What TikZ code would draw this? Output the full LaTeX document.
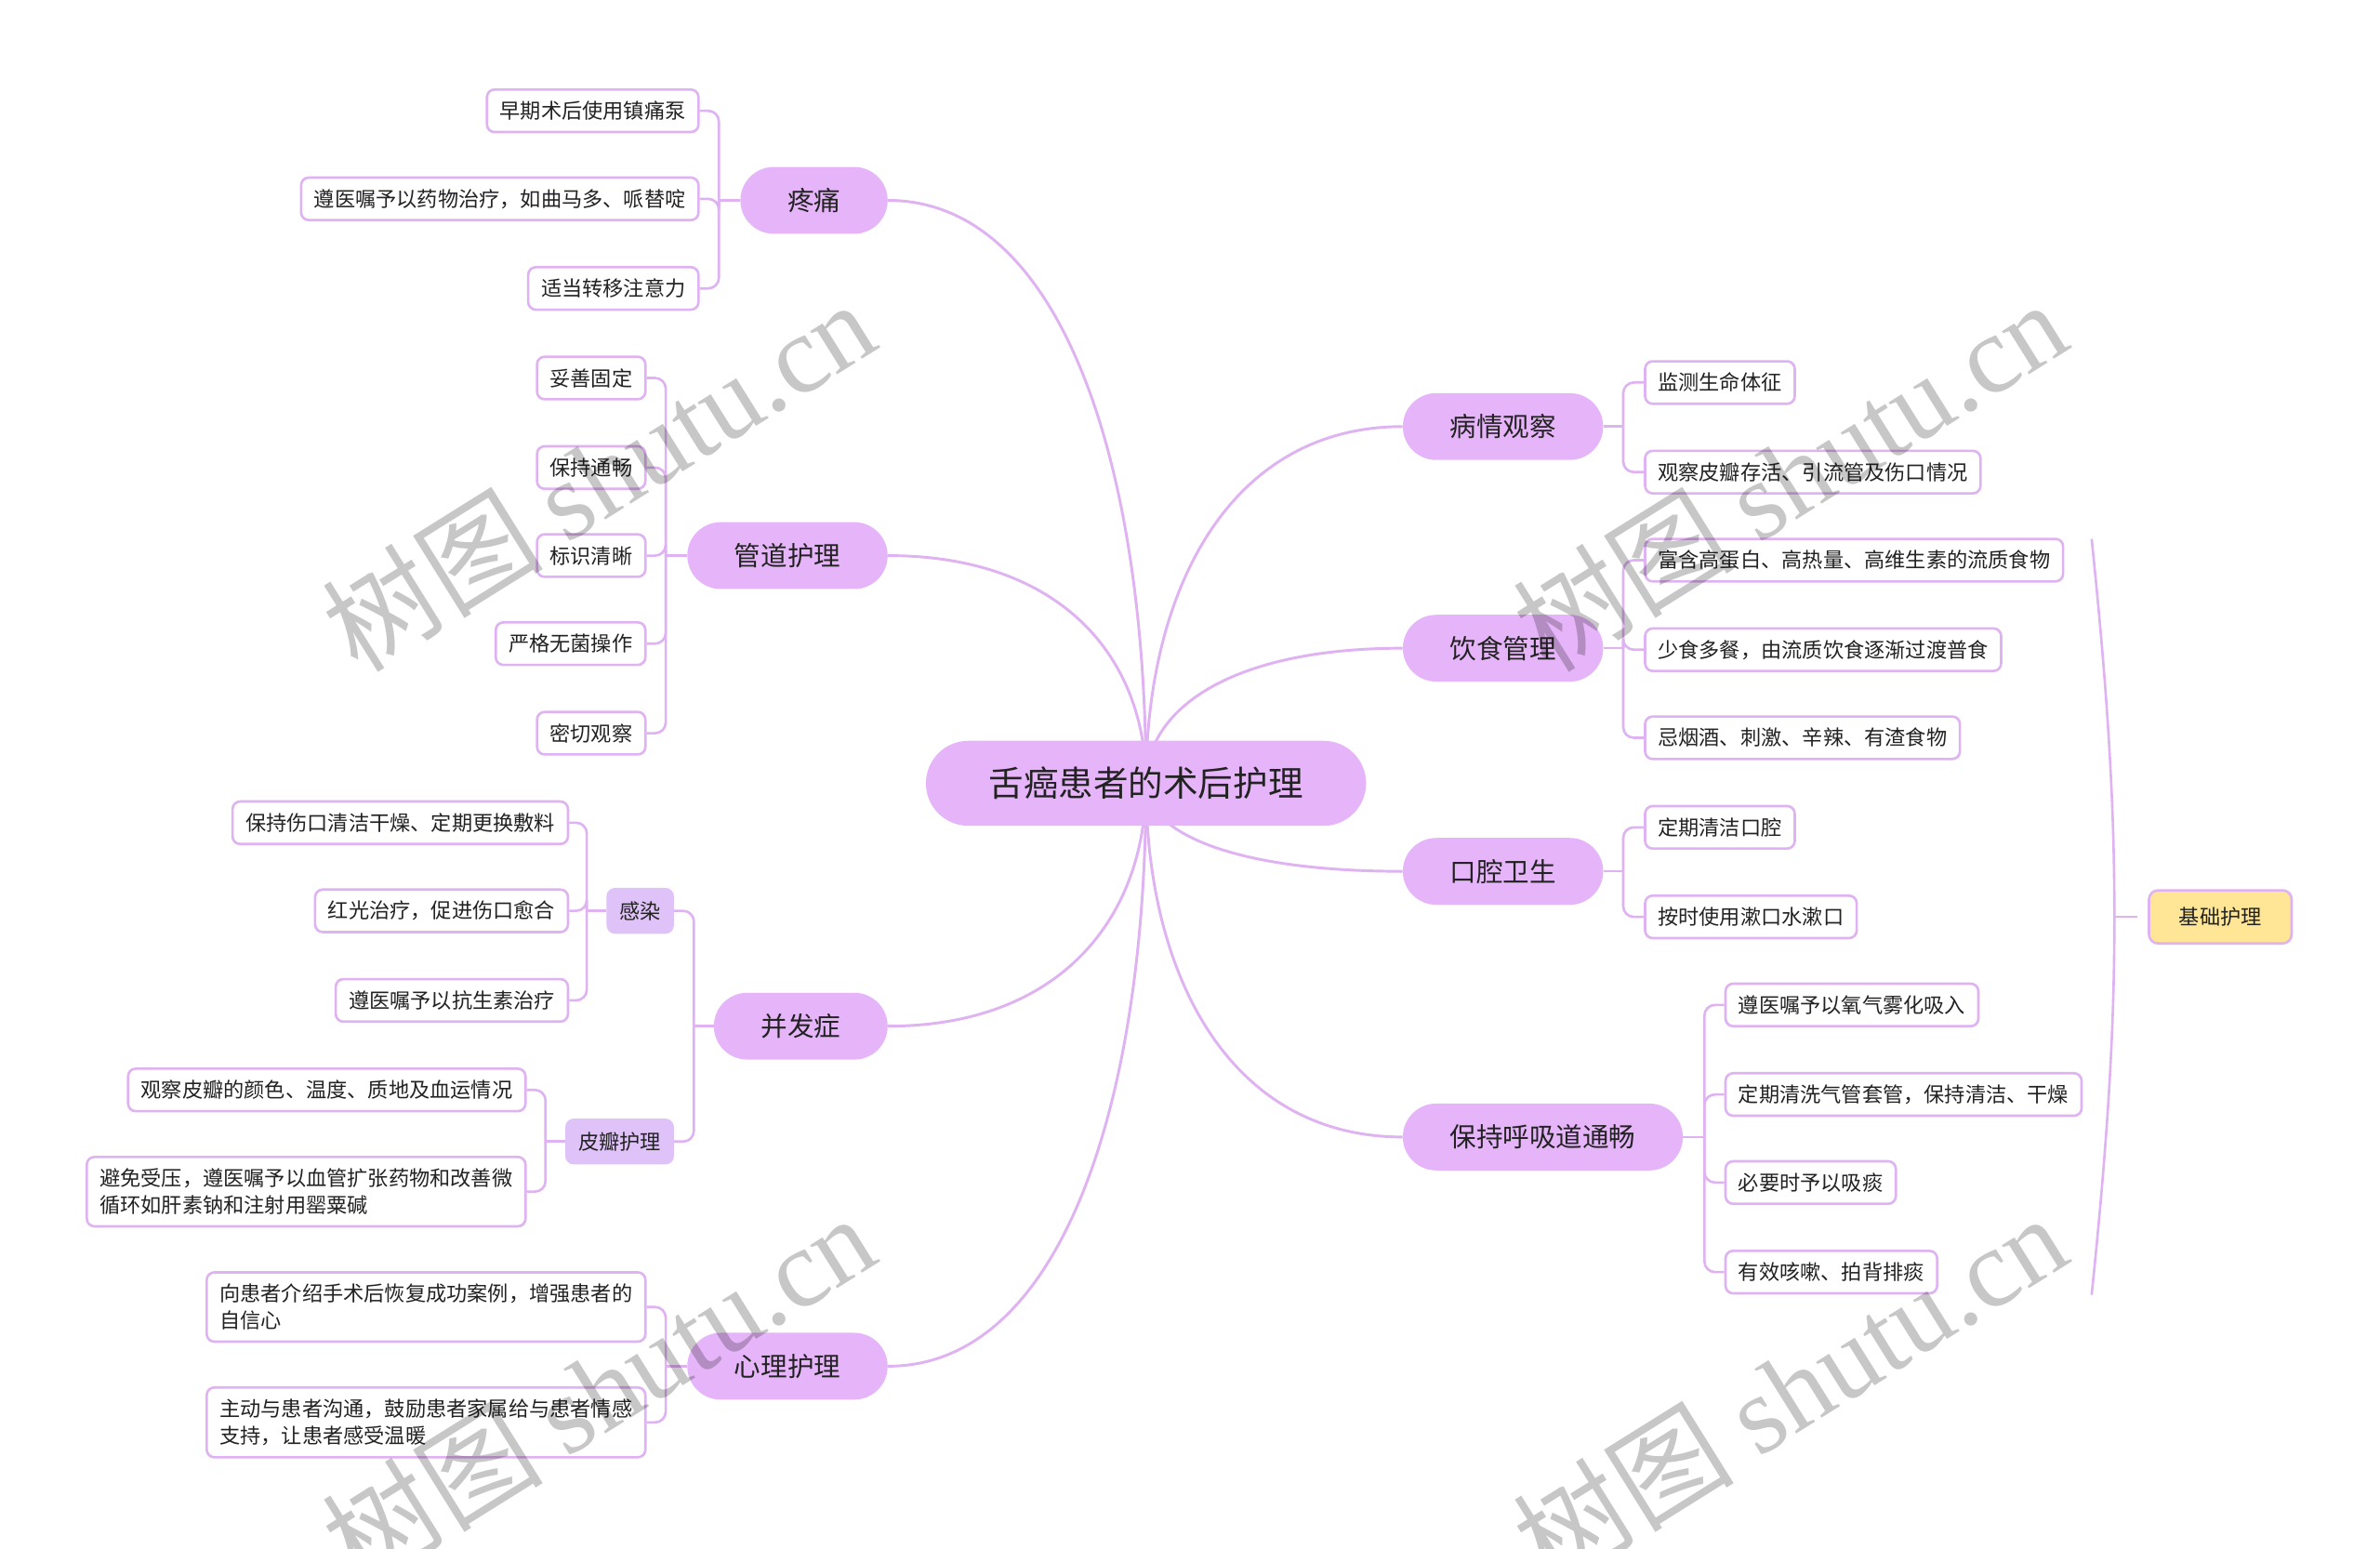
\documentclass[tikz,border=0pt]{standalone}
\usepackage{fontspec}
\setmainfont{Noto Sans CJK SC}
\newfontfamily\wmserif{Liberation Serif}
\usetikzlibrary{backgrounds}
\definecolor{pill}{RGB}{230,181,249}
\definecolor{subc}{RGB}{222,194,248}
\definecolor{ln}{RGB}{223,178,242}
\definecolor{txt}{RGB}{34,34,34}
\definecolor{yel}{RGB}{255,229,150}
\tikzset{
  root/.style={fill=pill, rounded corners=28, minimum height=56, minimum width=290, inner sep=0, text=txt, font=\fontsize{23}{27}\selectfont},
  mainn/.style={fill=pill, rounded corners=22, minimum height=44, inner xsep=31, inner ysep=0, text=txt, font=\fontsize{17.5}{21}\selectfont},
  leaf/.style={draw=ln, line width=1.6, fill=white, rounded corners=5, minimum height=28, inner xsep=8.5, inner ysep=3, text=txt, align=left, font=\fontsize{13.6}{18}\selectfont},
  leaftwo/.style={leaf, inner ysep=7.5},
  subn/.style={fill=subc, draw=subc, line width=1.2, rounded corners=5, minimum height=29, inner xsep=8, inner ysep=0, text=txt, font=\fontsize{13.6}{18}\selectfont},
  sumn/.style={fill=yel, draw=ln, line width=1.6, rounded corners=6, minimum height=35, minimum width=94, inner sep=0, text=txt, font=\fontsize{13.6}{18}\selectfont},
  conn/.style={draw=ln, line width=1.8},
  br/.style={draw=ln, line width=1.6, rounded corners=7},
  wmark/.style={text=black, text opacity=0.22, rotate=32, font=\fontsize{73}{76}\selectfont, inner sep=0},
}
\begin{document}
\begin{tikzpicture}[x=1pt,y=-1pt]
\useasboundingbox (0,0) rectangle (1568,1020);
% root
\node[root] (root) at (755,516) {舌癌患者的术后护理};
% left main nodes
\node[mainn, anchor=east] (p1) at (585,132) {疼痛};
\node[mainn, anchor=east] (p2) at (585,366) {管道护理};
\node[mainn, anchor=east] (p3) at (585,676) {并发症};
\node[mainn, anchor=east] (p4) at (585,900) {心理护理};
% right main nodes
\node[mainn, anchor=west] (q1) at (924,281) {病情观察};
\node[mainn, anchor=west] (q2) at (924,427) {饮食管理};
\node[mainn, anchor=west] (q3) at (924,574) {口腔卫生};
\node[mainn, anchor=west] (q4) at (924,749) {保持呼吸道通畅};
% p1 leaves
\node[leaf, anchor=east] (l11) at (461,73) {早期术后使用镇痛泵};
\node[leaf, anchor=east] (l12) at (461,131) {遵医嘱予以药物治疗，如曲马多、哌替啶};
\node[leaf, anchor=east] (l13) at (461,190) {适当转移注意力};
% p2 leaves
\node[leaf, anchor=east] (l21) at (426,249) {妥善固定};
\node[leaf, anchor=east] (l22) at (426,308) {保持通畅};
\node[leaf, anchor=east] (l23) at (426,366) {标识清晰};
\node[leaf, anchor=east] (l24) at (426,424) {严格无菌操作};
\node[leaf, anchor=east] (l25) at (426,483) {密切观察};
% p3 subs
\node[subn, anchor=east] (s1) at (444,600) {感染};
\node[subn, anchor=east] (s2) at (444,752) {皮瓣护理};
\node[leaf, anchor=east] (l31) at (375,542) {保持伤口清洁干燥、定期更换敷料};
\node[leaf, anchor=east] (l32) at (375,600) {红光治疗，促进伤口愈合};
\node[leaf, anchor=east] (l33) at (375,659) {遵医嘱予以抗生素治疗};
\node[leaf, anchor=east] (l34) at (347,718) {观察皮瓣的颜色、温度、质地及血运情况};
\node[leaftwo, anchor=east] (l35) at (347,785) {避免受压，遵医嘱予以血管扩张药物和改善微\\循环如肝素钠和注射用罂粟碱};
% p4 leaves
\node[leaftwo, anchor=east] (l41) at (426,861) {向患者介绍手术后恢复成功案例，增强患者的\\自信心};
\node[leaftwo, anchor=east] (l42) at (426,937) {主动与患者沟通，鼓励患者家属给与患者情感\\支持，让患者感受温暖};
% q1 leaves
\node[leaf, anchor=west] (r11) at (1083,252) {监测生命体征};
\node[leaf, anchor=west] (r12) at (1083,311) {观察皮瓣存活、引流管及伤口情况};
% q2 leaves
\node[leaf, anchor=west] (r21) at (1083,369) {富含高蛋白、高热量、高维生素的流质食物};
\node[leaf, anchor=west] (r22) at (1083,428) {少食多餐，由流质饮食逐渐过渡普食};
\node[leaf, anchor=west] (r23) at (1083,486) {忌烟酒、刺激、辛辣、有渣食物};
% q3 leaves
\node[leaf, anchor=west] (r31) at (1083,545) {定期清洁口腔};
\node[leaf, anchor=west] (r32) at (1083,604) {按时使用漱口水漱口};
% q4 leaves
\node[leaf, anchor=west] (r41) at (1136,662) {遵医嘱予以氧气雾化吸入};
\node[leaf, anchor=west] (r42) at (1136,721) {定期清洗气管套管，保持清洁、干燥};
\node[leaf, anchor=west] (r43) at (1136,779) {必要时予以吸痰};
\node[leaf, anchor=west] (r44) at (1136,838) {有效咳嗽、拍背排痰};
% summary
\node[sumn, anchor=west] (sum) at (1415,604) {基础护理};
\coordinate (btop) at (1378,355);
\coordinate (bmid) at (1393,604);
\coordinate (bbot) at (1378,853);

\begin{scope}[on background layer]
\fill[white] (0,0) rectangle (1568,1020);
% root connectors
\draw[conn] (root.center) .. controls (755,305) and (699,132) .. (p1.east);
\draw[conn] (root.center) .. controls (755,433) and (699,366) .. (p2.east);
\draw[conn] (root.center) .. controls (755,604) and (699,676) .. (p3.east);
\draw[conn] (root.center) .. controls (755,727) and (699,900) .. (p4.east);
\draw[conn] (root.center) .. controls (755,387) and (811,281) .. (q1.west);
\draw[conn] (root.center) .. controls (755,467) and (811,427) .. (q2.west);
\draw[conn] (root.center) .. controls (755,548) and (811,574) .. (q3.west);
\draw[conn] (root.center) .. controls (755,644) and (811,749) .. (q4.west);
% branch stubs
\draw[br] (p1.west) -- ++(-14,0) coordinate (b1);
\draw[br] (p2.west) -- ++(-14,0) coordinate (b2);
\draw[br] (p3.west) -- ++(-13,0) coordinate (b3);
\draw[br] (p4.west) -- ++(-14,0) coordinate (b4);
\draw[br] (s1.west) -- ++(-13,0) coordinate (bs1);
\draw[br] (s2.west) -- ++(-13,0) coordinate (bs2);
\draw[br] (q1.east) -- ++(13,0) coordinate (c1);
\draw[br] (q2.east) -- ++(13,0) coordinate (c2);
\draw[br] (q3.east) -- ++(13,0) coordinate (c3);
\draw[br] (q4.east) -- ++(14,0) coordinate (c4);
\foreach \l in {l11,l12,l13} \draw[br] (b1) |- (\l.east);
\foreach \l in {l21,l22,l23,l24,l25} \draw[br] (b2) |- (\l.east);
\foreach \l in {s1,s2} \draw[br] (b3) |- (\l.east);
\foreach \l in {l41,l42} \draw[br] (b4) |- (\l.east);
\foreach \l in {l31,l32,l33} \draw[br] (bs1) |- (\l.east);
\foreach \l in {l34,l35} \draw[br] (bs2) |- (\l.east);
\foreach \l in {r11,r12} \draw[br] (c1) |- (\l.west);
\foreach \l in {r21,r22,r23} \draw[br] (c2) |- (\l.west);
\foreach \l in {r31,r32} \draw[br] (c3) |- (\l.west);
\foreach \l in {r41,r42,r43,r44} \draw[br] (c4) |- (\l.west);
% summary brace
\draw[conn, line width=1.6] (btop) .. controls (1390,470) and (1393,540) .. (bmid) .. controls (1393,668) and (1390,738) .. (bbot);
\draw[conn, line width=1.6] (bmid) -- ([xshift=-7]sum.west);
\end{scope}

% watermarks
\node[wmark] (w1) at (394,313) {树图 {\wmserif shutu.cn}};
\node[wmark] (w2) at (1179,313) {树图 {\wmserif shutu.cn}};
\node[wmark] (w3) at (394,915) {树图 {\wmserif shutu.cn}};
\node[wmark] (w4) at (1179,915) {树图 {\wmserif shutu.cn}};
\end{tikzpicture}
\end{document}
